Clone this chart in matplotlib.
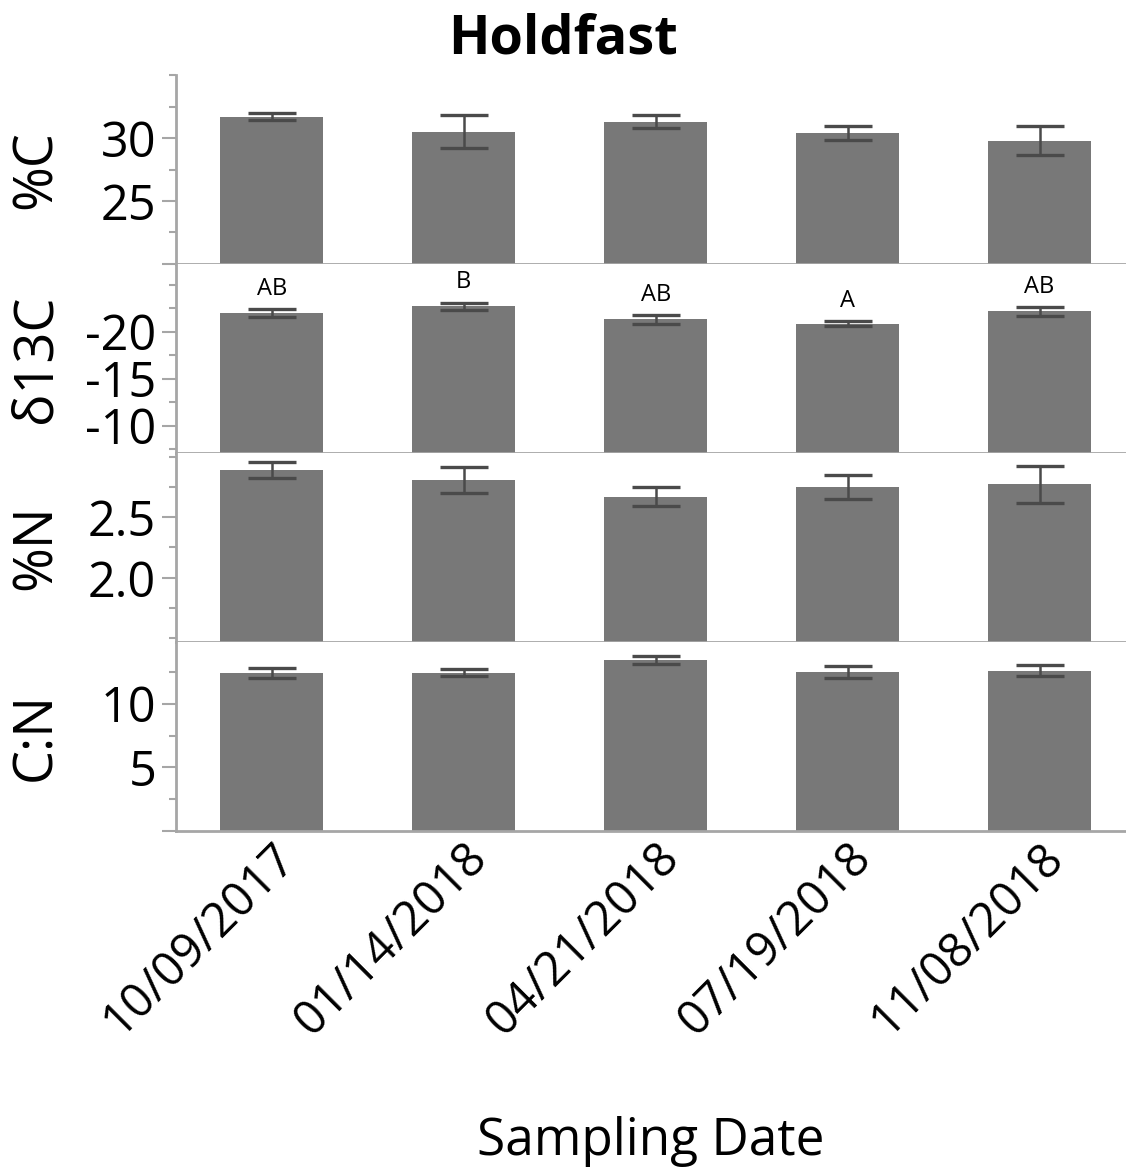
import numpy as np
import matplotlib.pyplot as plt
from matplotlib.ticker import MultipleLocator

dates = ['10/09/2017', '01/14/2018', '04/21/2018', '07/19/2018', '11/08/2018']

pct_c = [31.7, 30.5, 31.3, 30.4, 29.8]
pct_c_se = [0.3, 1.3, 0.5, 0.57, 1.15]

d13c = [-22.0, -22.7, -21.3, -20.85, -22.15]
d13c_se = [0.4, 0.4, 0.45, 0.28, 0.43]
d13c_groups = ['AB', 'B', 'AB', 'A', 'AB']

pct_n = [2.89, 2.81, 2.67, 2.75, 2.77]
pct_n_se = [0.065, 0.108, 0.08, 0.096, 0.15]

cn = [12.4, 12.43, 13.45, 12.47, 12.6]
cn_se = [0.4, 0.27, 0.32, 0.47, 0.44]

bar_col = '#787878'
err_col = '#4a4a4a'
axis_col = '#a6a6a6'
font = 'Open Sans'

fig = plt.figure(figsize=(11.26, 11.72), dpi=100)
gs = fig.add_gridspec(4, 1, left=0.156, right=1.0, top=0.936, bottom=0.291, hspace=0)
axes = [fig.add_subplot(gs[i]) for i in range(4)]

panels = [
    ('%C', pct_c, pct_c_se, (20, 35), [20, 25, 30], ['', '25', '30']),
    ('δ13C', d13c, d13c_se, (-7.1, -27.2), [-10, -15, -20], ['-10', '-15', '-20']),
    ('%N', pct_n, pct_n_se, (1.47, 3.03), [2.0, 2.5], ['2.0', '2.5']),
    ('C:N', cn, cn_se, (0, 14.85), [0, 5, 10], ['', '5', '10']),
]

x = np.arange(len(dates))
for ax, (lab, vals, errs, lim, ticks, tlabs) in zip(axes, panels):
    bottom = lim[0]
    heights = [v - bottom for v in vals]
    ax.bar(x, heights, bottom=bottom, width=0.535, color=bar_col, zorder=2)
    ax.errorbar(x, vals, yerr=errs, fmt='none', ecolor=err_col,
                elinewidth=1.8, capsize=17, capthick=2.4, zorder=3)
    ax.set_xlim(-0.5, 4.45)
    ax.set_ylim(*lim)
    ax.set_yticks(ticks)
    ax.set_yticklabels(tlabs, fontsize=35, family=font)
    ax.yaxis.set_minor_locator(MultipleLocator(abs(ticks[1] - ticks[0]) / 2))
    ax.tick_params(axis='y', which='major', length=10, width=1.5, color=axis_col, pad=4)
    ax.tick_params(axis='y', which='minor', length=5, width=1.5, color=axis_col)
    ax.tick_params(axis='x', length=0)
    ax.set_ylabel(lab, fontsize=39, family=font)
    ax.yaxis.set_label_coords(-0.118, 0.5)
    for s in ['top', 'right']:
        ax.spines[s].set_visible(False)
    for s in ['left', 'bottom']:
        ax.spines[s].set_color(axis_col)
        ax.spines[s].set_linewidth(2)

# significance letters above the delta 13C bars (axis runs upside down)
for i, g in enumerate(d13c_groups):
    axes[1].annotate(g, (x[i], d13c[i] - d13c_se[i]), xytext=(0, 6),
                     textcoords='offset points', ha='center', va='bottom',
                     fontsize=17, family=font)

for ax in axes[:-1]:
    ax.set_xticks(x)
    ax.set_xticklabels([])
axes[-1].set_xticks(x)
axes[-1].set_xticklabels(dates, rotation=45, ha='right', va='top',
                         rotation_mode='anchor', fontsize=34, family=font)
axes[-1].tick_params(axis='x', pad=2)

fig.text(0.578, 0.0145, 'Sampling Date', ha='center', va='baseline', fontsize=37, family=font)
fig.text(0.5, 0.966, 'Holdfast', ha='center', va='center', fontsize=39,
         family=font, fontweight='bold')

fig.savefig('out.png', dpi=100)
